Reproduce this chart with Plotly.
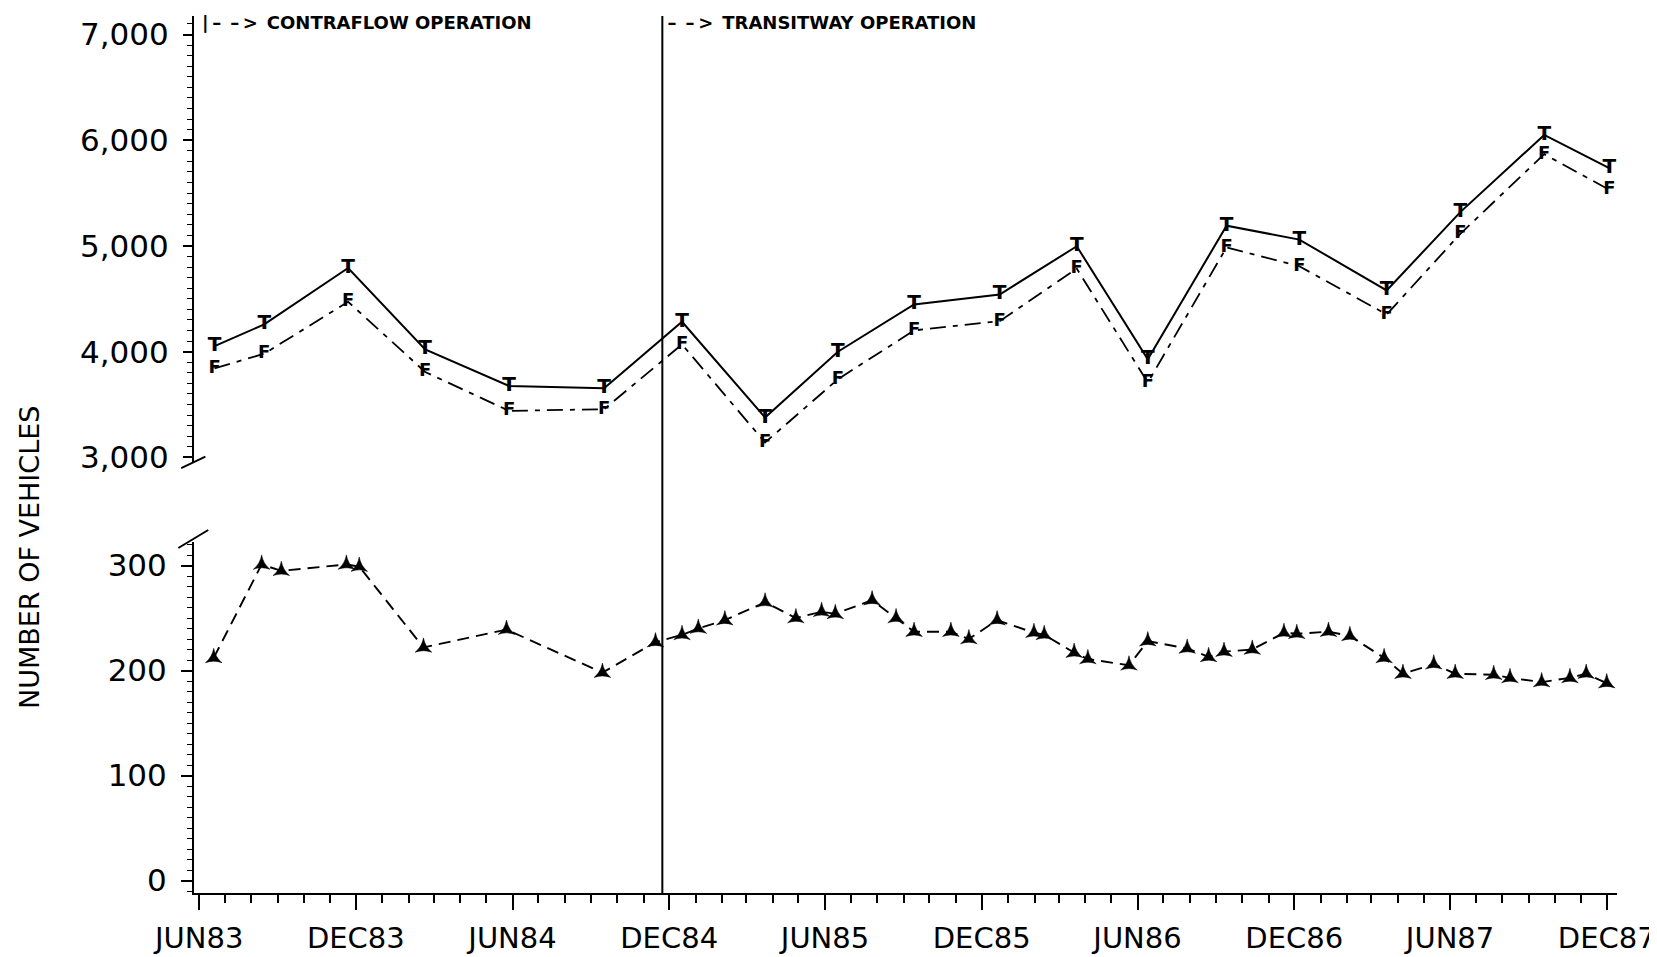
import plotly.graph_objects as go

# ---- data ----
upper_dates = ["1983-06-19", "1983-08-16", "1983-11-22", "1984-02-20", "1984-05-28",
               "1984-09-16", "1984-12-16", "1985-03-23", "1985-06-16", "1985-09-13",
               "1985-12-22", "1986-03-22", "1986-06-13", "1986-09-13", "1986-12-07",
               "1987-03-19", "1987-06-13", "1987-09-19", "1987-12-04"]
total_vehicles = [4053, 4258, 4792, 4022, 3676, 3654, 4283, 3377, 4000, 4447,
                  4541, 4997, 3928, 5192, 5060, 4579, 5320, 6050, 5736]
f_vehicles = [3843, 3981, 4472, 3808, 3440, 3456, 4069, 3141, 3739, 4201,
              4289, 4786, 3708, 4987, 4808, 4352, 5115, 5868, 5531]

lower_dates = ["1983-06-18", "1983-08-13", "1983-09-05", "1983-11-20", "1983-12-05",
               "1984-02-18", "1984-05-25", "1984-09-14", "1984-11-15", "1984-12-16",
               "1985-01-04", "1985-02-04", "1985-03-23", "1985-04-28", "1985-05-28",
               "1985-06-13", "1985-07-26", "1985-08-23", "1985-09-13", "1985-10-26",
               "1985-11-16", "1985-12-19", "1986-01-31", "1986-02-12", "1986-03-19",
               "1986-04-04", "1986-05-22", "1986-06-13", "1986-07-29", "1986-08-23",
               "1986-09-10", "1986-10-13", "1986-11-19", "1986-12-04", "1987-01-10",
               "1987-02-04", "1987-03-16", "1987-04-07", "1987-05-13", "1987-06-07",
               "1987-07-22", "1987-08-10", "1987-09-16", "1987-10-19", "1987-11-07",
               "1987-12-01"]
a_vehicles = [212, 301, 295, 301, 299, 222, 239, 198, 227, 234,
              240, 248, 265, 250, 256, 254, 267, 250, 237, 237,
              230, 248, 236, 234, 217, 211, 205, 228, 221, 213,
              218, 220, 236, 235, 237, 233, 212, 197, 206, 197,
              196, 193, 189, 193, 197, 188]

tick_dates = ["1983-06-01", "1983-12-01", "1984-06-01", "1984-12-01", "1985-06-01",
              "1985-12-01", "1986-06-01", "1986-12-01", "1987-06-01", "1987-12-01"]
tick_labels = ["JUN83", "DEC83", "JUN84", "DEC84", "JUN85",
               "DEC85", "JUN86", "DEC86", "JUN87", "DEC87"]

upper_ticks = [3000, 4000, 5000, 6000, 7000]
lower_ticks = [0, 100, 200, 300]

contraflow_start = "1983-06-02"
transitway_start = "1984-11-23"

FONT = "DejaVu Sans"

fig = go.Figure()

fig.add_trace(go.Scatter(
    x=upper_dates, y=total_vehicles, xaxis="x", yaxis="y2",
    mode="lines+text", text=["T"] * len(upper_dates), textposition="middle center",
    textfont=dict(family=FONT, size=20, color="black", weight="bold"),
    line=dict(color="black", width=2), showlegend=False, cliponaxis=False))

fig.add_trace(go.Scatter(
    x=upper_dates, y=f_vehicles, xaxis="x", yaxis="y2",
    mode="lines+text", text=["F"] * len(upper_dates), textposition="middle center",
    textfont=dict(family=FONT, size=18, color="black", weight="bold"),
    line=dict(color="black", width=1.8, dash="16px,7px,5px,7px"),
    showlegend=False, cliponaxis=False))

fig.add_trace(go.Scatter(
    x=lower_dates, y=a_vehicles, xaxis="x", yaxis="y",
    mode="lines+markers",
    marker=dict(symbol="star-triangle-up", size=12, color="black",
                line=dict(color="black", width=0.5)),
    line=dict(color="black", width=1.9, dash="12px,7px"),
    showlegend=False, cliponaxis=False))

axis_common = dict(showline=True, linecolor="black", linewidth=2, showgrid=False,
                   zeroline=False, ticks="outside", tickcolor="black", tickwidth=2,
                   automargin=False)

fig.update_layout(
    width=1649, height=949,
    paper_bgcolor="white", plot_bgcolor="white",
    margin=dict(l=186, r=40, t=8, b=64),
    xaxis=dict(type="date", range=["1983-05-26", "1987-12-13"], anchor="y",
               tickmode="array", tickvals=tick_dates, ticktext=tick_labels,
               ticklen=15, ticklabelstandoff=3, ticklabeloverflow="allow",
               tickfont=dict(family=FONT, size=29, color="black"),
               minor=dict(dtick="M1", tick0="1983-06-01", ticks="outside",
                          ticklen=8, tickcolor="black", tickwidth=1.5),
               **axis_common),
    yaxis=dict(domain=[0, 0.4002], range=[-11.9, 322.4], anchor="x",
               tickmode="array", tickvals=lower_ticks, ticklen=11,
               ticklabelstandoff=8,
               tickfont=dict(family=FONT, size=31, color="black"),
               minor=dict(dtick=10, tick0=0, ticks="outside", ticklen=5,
                          tickcolor="black", tickwidth=1.2),
               **axis_common),
    yaxis2=dict(domain=[0.4915, 1], range=[2957, 7175], anchor="x",
                tickmode="array", tickvals=upper_ticks, tickformat=",d",
                ticklen=9, ticklabelstandoff=8,
                tickfont=dict(family=FONT, size=31, color="black"),
                minor=dict(dtick=100, tick0=0, ticks="outside", ticklen=5,
                           tickcolor="black", tickwidth=1.2),
                **axis_common),
)

# transitway vertical line
fig.add_shape(type="line", xref="x", yref="paper", x0=transitway_start, x1=transitway_start,
              y0=0, y1=1, line=dict(color="black", width=2))

# axis break marks
fig.add_shape(type="line", xref="paper", yref="paper", x0=-0.009, x1=0.008,
              y0=0.4845, y1=0.4975, line=dict(color="black", width=2))
fig.add_shape(type="line", xref="paper", yref="paper", x0=-0.011, x1=0.010,
              y0=0.3934, y1=0.4139, line=dict(color="black", width=2))

fig.add_annotation(x=contraflow_start, xref="x", y=0.993, yref="paper",
                   text="|\u2009\u2013\u2002\u2013\u2009>\u2002CONTRAFLOW OPERATION",
                   showarrow=False, xanchor="left", yanchor="middle",
                   font=dict(family=FONT, size=18, color="black", weight="bold"))
fig.add_annotation(x=transitway_start, xref="x", y=0.993, yref="paper",
                   text="\u2009\u2013\u2002\u2013\u2009>\u2002TRANSITWAY OPERATION",
                   showarrow=False, xanchor="left", yanchor="middle",
                   font=dict(family=FONT, size=18, color="black", weight="bold"))

fig.add_annotation(x=-0.116, xref="paper", y=0.383, yref="paper",
                   text="NUMBER OF VEHICLES", showarrow=False, textangle=-90,
                   xanchor="center", yanchor="middle",
                   font=dict(family=FONT, size=27, color="black"))

fig.write_html("out.html")
